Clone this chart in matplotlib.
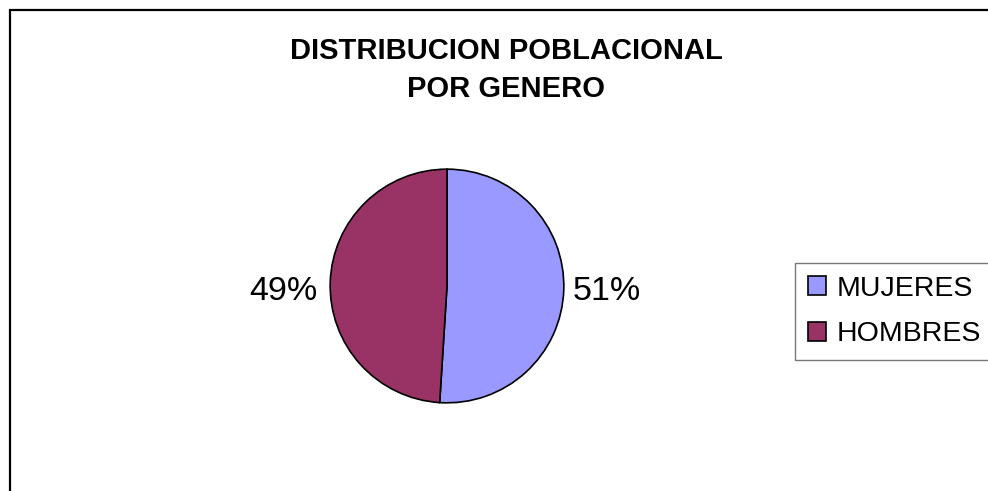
import matplotlib

matplotlib.use("Agg")
import matplotlib.pyplot as plt
from matplotlib.patches import Rectangle

plt.rcParams["font.family"] = ["Liberation Sans", "DejaVu Sans"]

# Datos
labels = ["MUJERES", "HOMBRES"]
shares = [51, 49]
colors = ["#9999FF", "#993366"]

W, H = 988, 491
fig = plt.figure(figsize=(W / 100, H / 100), dpi=100)
fig.patch.set_facecolor("white")

# marco del gráfico (cortado a la derecha y abajo)
fig.patches.append(Rectangle((9.5 / W, -0.1), 1.2, 1 - 9.5 / H + 0.1,
                             transform=fig.transFigure, fill=False,
                             edgecolor="black", linewidth=1.6))

cx, cy, r = 447, 286, 118
ax = fig.add_axes([(cx - r) / W, (H - cy - r) / H, 2 * r / W, 2 * r / H])
wedges, _, autotexts = ax.pie(
    shares, colors=colors, startangle=90, counterclock=False,
    autopct="%1.0f%%", pctdistance=1.37,
    wedgeprops={"edgecolor": "black", "linewidth": 1.2},
    textprops={"fontsize": 24.5},
)
# etiquetas a la misma altura, como en Excel
x1, y1 = autotexts[1].get_position()
autotexts[1].set_position((x1 - 0.03, autotexts[0].get_position()[1]))
ax.set_xlim(-1.01, 1.01)
ax.set_ylim(-1.01, 1.01)
ax.set_aspect("equal")

fig.text(506 / W, 1 - 70 / H, "DISTRIBUCION POBLACIONAL\nPOR GENERO",
         ha="center", va="center", fontsize=21, fontweight="bold",
         linespacing=1.45)

leg = fig.legend(wedges, labels, loc="center left",
                 bbox_to_anchor=(795 / W, 1 - 311.5 / H),
                 fontsize=20.5, frameon=True, fancybox=False,
                 handlelength=0.65, handleheight=0.65, handletextpad=0.35,
                 borderpad=0.45, labelspacing=0.7, borderaxespad=0)
leg.get_frame().set_edgecolor("#555555")
leg.get_frame().set_linewidth(1.0)

fig.savefig("out.png", dpi=100)
